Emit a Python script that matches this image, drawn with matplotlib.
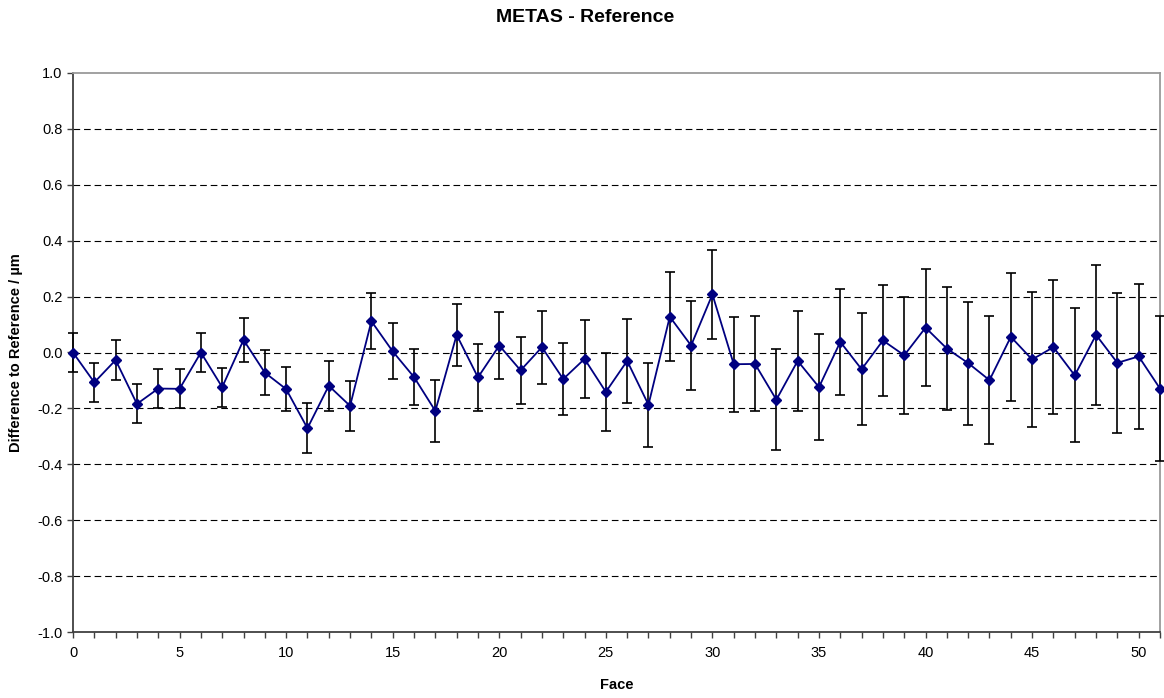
import numpy as np
import matplotlib
matplotlib.use("Agg")
import matplotlib.pyplot as plt
from matplotlib.ticker import MultipleLocator, FormatStrFormatter

plt.rcParams["font.family"] = ["Liberation Sans", "DejaVu Sans"]

# Face number
faces = list(range(52))

# Difference to reference (µm)
diffs = [
    0.000, -0.107, -0.027, -0.184, -0.129, -0.130, 0.000, -0.124, 0.045, -0.072,
    -0.131, -0.271, -0.119, -0.191, 0.112, 0.004, -0.088, -0.209, 0.063, -0.089,
    0.025, -0.064, 0.019, -0.095, -0.023, -0.141, -0.030, -0.187, 0.128, 0.025,
    0.208, -0.042, -0.041, -0.169, -0.030, -0.124, 0.038, -0.060, 0.043, -0.010,
    0.089, 0.014, -0.038, -0.099, 0.056, -0.025, 0.019, -0.082, 0.063, -0.037,
    -0.014, -0.129,
]

# Expanded uncertainty (µm), symmetric
uncert = [
    0.07, 0.07, 0.07, 0.07, 0.07, 0.07, 0.07, 0.07, 0.08, 0.08,
    0.08, 0.09, 0.09, 0.09, 0.10, 0.10, 0.10, 0.11, 0.11, 0.12,
    0.12, 0.12, 0.13, 0.13, 0.14, 0.14, 0.15, 0.15, 0.16, 0.16,
    0.16, 0.17, 0.17, 0.18, 0.18, 0.19, 0.19, 0.20, 0.20, 0.21,
    0.21, 0.22, 0.22, 0.23, 0.23, 0.24, 0.24, 0.24, 0.25, 0.25,
    0.26, 0.26,
]

fig = plt.figure(figsize=(11.64, 6.98), dpi=100)
ax = fig.add_axes([73 / 1164, 66 / 698, 1087 / 1164, 559 / 698])

# dashed gridlines like the Excel original
for yv in np.arange(-0.8, 0.81, 0.2):
    ax.axhline(yv, color="#000000", linewidth=0.8, dashes=(6, 3.5), zorder=1)

eb = ax.errorbar(faces, diffs, yerr=uncert, fmt="none", ecolor="black",
                 elinewidth=1.2, capsize=3.5, capthick=1.2, zorder=4)
for artist in eb.get_children():
    artist.set_clip_on(False)
ax.plot(faces, diffs, color="#000080", linewidth=1.3, marker="D",
        markersize=5.5, markerfacecolor="#000080", markeredgecolor="#000080",
        zorder=5, clip_on=False)

ax.set_xlim(0, 51)
ax.set_ylim(-1.0, 1.0)
ax.xaxis.set_major_locator(MultipleLocator(5))
ax.xaxis.set_minor_locator(MultipleLocator(1))
ax.yaxis.set_major_locator(MultipleLocator(0.2))
ax.yaxis.set_major_formatter(FormatStrFormatter("%.1f"))

ax.tick_params(axis="both", which="both", direction="out", length=4,
               width=1, colors="#404040", labelcolor="black", labelsize=10.5)
ax.tick_params(axis="x", pad=6)

for side in ("left", "bottom"):
    ax.spines[side].set_color("#404040")
    ax.spines[side].set_linewidth(1.3)
for side in ("top", "right"):
    ax.spines[side].set_color("#9a9a9a")
    ax.spines[side].set_linewidth(1.3)

ax.set_xlabel("Face", fontsize=10.5, fontweight="bold", labelpad=13)
ax.set_ylabel("Difference to Reference / µm", fontsize=10.5,
              fontweight="bold", labelpad=10)

fig.text(0.503, 1 - 18 / 698, "METAS - Reference", ha="center", va="center",
         fontsize=14, fontweight="bold")

fig.savefig("out.png", dpi=100)
